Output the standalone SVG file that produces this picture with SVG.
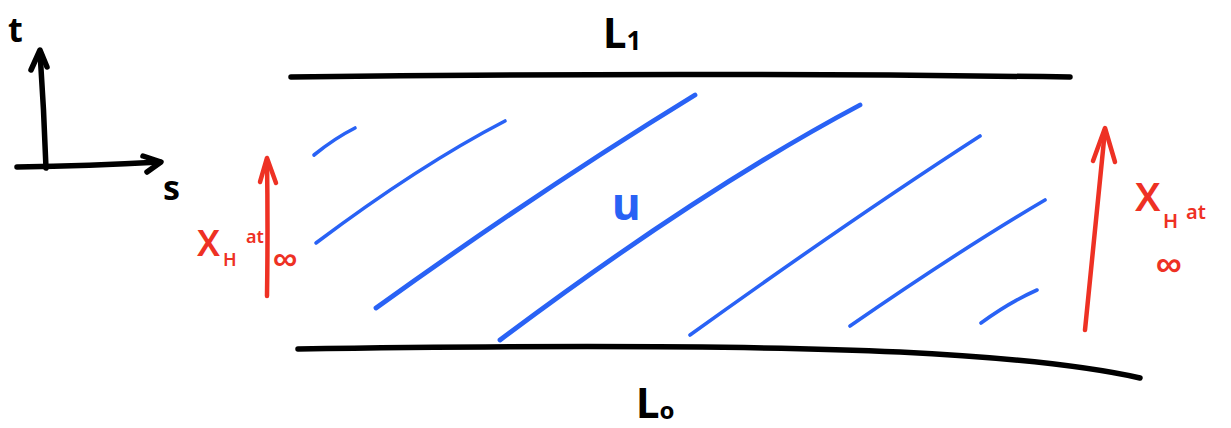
<svg xmlns="http://www.w3.org/2000/svg" width="1231" height="428" viewBox="0 0 1231 428">
<style>
.ink{fill:none;stroke:#000;stroke-width:5.5;stroke-linecap:round;stroke-linejoin:round}
.hatch{fill:none;stroke:#2962f5;stroke-width:3.6;stroke-linecap:round}
.thick{stroke-width:4.8}
.red{fill:none;stroke:#ee3124;stroke-width:4.5;stroke-linecap:round;stroke-linejoin:round}
.bt{font-family:"Noto Sans","Liberation Sans",sans-serif;fill:#000;font-weight:bold}
.rt{font-family:"Noto Sans","Liberation Sans",sans-serif;fill:#ee3124;font-weight:600}
.ut{font-family:"Noto Sans","Liberation Sans",sans-serif;fill:#2962f5;font-weight:bold}
</style>
<rect width="1231" height="428" fill="#fff"/>
<g id="axes">
<path class="ink" d="M46,168 Q44,110 40,52"/>
<path class="ink" d="M31,70 L40,50 L47,67"/>
<path class="ink" d="M17,167 Q90,166 160,162"/>
<path class="ink" d="M143,156 L161,162 L147,172"/>
<text class="bt" x="8" y="42" font-size="34">t</text>
<text class="bt" x="163" y="200" font-size="34">s</text>
</g>
<g id="L1">
<path class="ink" d="M291,77 Q680,72 1070,77"/>
<text class="bt" x="603" y="48" font-size="42">L<tspan font-size="26" dy="2">1</tspan></text>
</g>
<g id="L0">
<path class="ink" d="M298,349 Q700,343 900,352 Q1060,360 1140,378"/>
<text class="bt" x="636" y="418" font-size="42">L<tspan font-size="24" dy="1">o</tspan></text>
</g>
<g id="U">
<path class="hatch" d="M314,155 Q335,138 355,128"/>
<path class="hatch" d="M316,243 Q420,165 505,121"/>
<path class="hatch thick" d="M376,308 Q540,190 695,95"/>
<path class="hatch thick" d="M500,340 Q700,190 860,105"/>
<path class="hatch" d="M690,335 Q850,220 980,136"/>
<path class="hatch" d="M850,326 Q960,250 1045,200"/>
<path class="hatch" d="M981,323 Q1010,302 1037,290"/>
<text class="ut" x="612" y="220" font-size="44">u</text>
</g>
<g id="XH-left">
<path class="red" d="M267,296 Q268,230 267,160"/>
<path class="red" d="M260,182 L267,158 L276,183"/>
<text class="rt" x="197" y="256" font-size="36">X</text>
<text class="rt" x="223" y="266" font-size="18">H</text>
<text class="rt" x="246" y="243" font-size="18">at</text>
<text class="rt" x="273" y="270" font-size="34">∞</text>
</g>
<g id="XH-right">
<path class="red" d="M1085,330 Q1095,230 1105,130"/>
<path class="red" d="M1093,161 L1105,128 L1115,162"/>
<text class="rt" x="1135" y="211" font-size="40">X</text>
<text class="rt" x="1163" y="228" font-size="20">H</text>
<text class="rt" x="1186" y="219" font-size="20">at</text>
<text class="rt" x="1156" y="276" font-size="36">∞</text>
</g>
</svg>
